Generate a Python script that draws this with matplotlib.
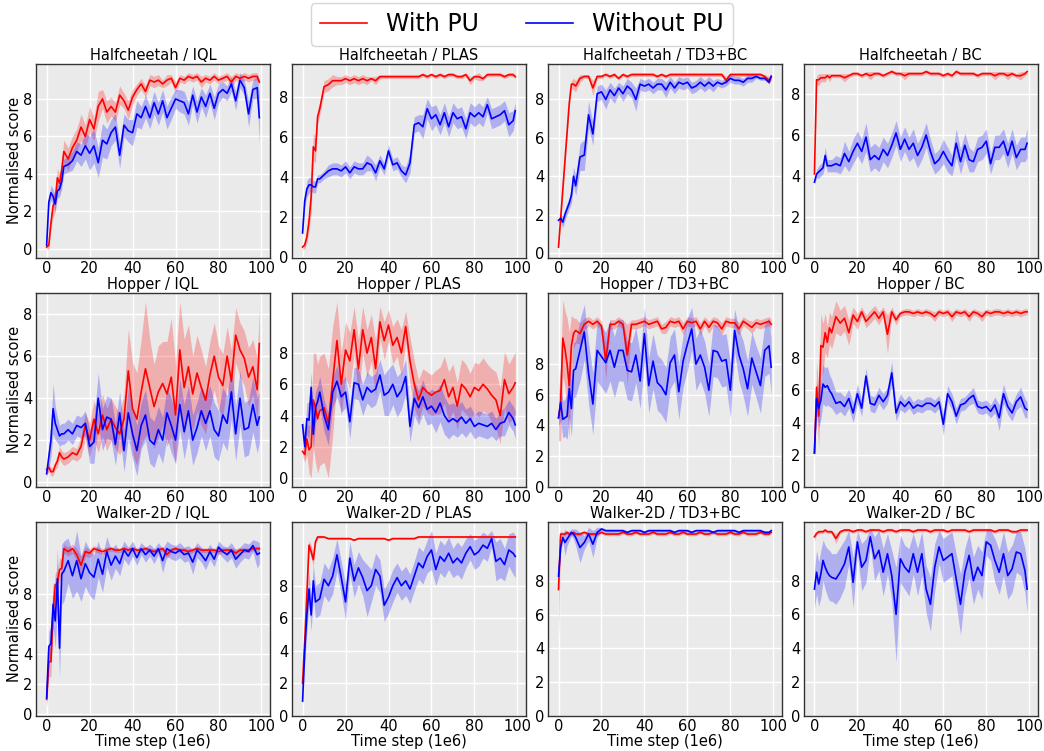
import numpy as np
import matplotlib
matplotlib.use('Agg')
import matplotlib.pyplot as plt
from matplotlib.lines import Line2D

# time steps (1e6) at which the curves were read
steps = [0, 1, 2, 3, 4, 5, 6, 7, 8,
         10, 12, 14, 16, 18, 20, 22, 24, 26, 28,
         30, 32, 34, 36, 38, 40, 42, 44, 46, 48,
         50, 52, 54, 56, 58, 60, 62, 64, 66, 68,
         70, 72, 74, 76, 78, 80, 82, 84, 86, 88,
         90, 92, 94, 96, 98, 99]

# ---- Halfcheetah ----
hc_iql_pu = [0.1, 0.2, 1.4, 2.3, 2.6, 3.8, 3.5, 4.2, 5.2,
             4.8, 5.4, 5.8, 6.5, 6.0, 6.9, 6.4, 7.6, 8.0, 7.3,
             7.6, 7.3, 8.2, 7.9, 7.4, 8.1, 8.5, 8.8, 8.4, 9.0,
             8.9, 9.0, 8.8, 9.0, 9.1, 8.6, 9.1, 9.0, 9.2, 9.1,
             9.2, 8.9, 9.1, 9.0, 9.2, 9.0, 9.1, 9.2, 8.9, 9.2,
             9.1, 9.2, 9.1, 9.2, 9.2, 8.9]
hc_iql_pu_sd = [0.1, 0.2, 0.4, 0.6, 0.6, 0.5, 0.5, 0.5, 0.6,
                0.6, 0.6, 0.6, 0.7, 0.6, 0.7, 0.6, 0.8, 0.5, 0.6,
                0.5, 0.5, 0.5, 0.4, 0.5, 0.4, 0.3, 0.3, 0.3, 0.3,
                0.3, 0.3, 0.2, 0.3, 0.2, 0.3, 0.2, 0.2, 0.2, 0.2,
                0.2, 0.3, 0.2, 0.2, 0.2, 0.2, 0.2, 0.2, 0.3, 0.2,
                0.2, 0.2, 0.2, 0.2, 0.2, 0.2]
hc_iql_nopu = [0.2, 2.5, 3.0, 2.8, 2.4, 3.1, 3.2, 3.6, 4.4,
               4.5, 4.7, 5.2, 5.0, 5.5, 5.1, 5.5, 4.6, 5.8, 5.6,
               6.2, 6.5, 5.0, 6.6, 6.3, 6.2, 7.2, 7.0, 7.6, 7.0,
               7.8, 7.2, 7.9, 7.0, 7.5, 8.0, 7.9, 7.8, 7.2, 8.2,
               7.3, 8.1, 7.6, 8.3, 7.5, 8.3, 8.5, 8.3, 8.8, 7.9,
               9.0, 8.6, 7.2, 8.5, 8.6, 7.0]
hc_iql_nopu_sd = [0.1, 0.3, 0.4, 0.4, 0.4, 0.4, 0.4, 0.4, 0.4,
                  0.4, 0.5, 0.5, 0.6, 0.7, 0.9, 0.9, 0.8, 0.9, 0.8,
                  0.7, 0.7, 0.7, 0.6, 0.6, 0.7, 0.7, 0.6, 0.6, 0.6,
                  0.6, 0.6, 0.6, 0.6, 0.6, 0.5, 0.6, 0.6, 0.6, 0.5,
                  0.6, 0.5, 0.6, 0.5, 0.6, 0.5, 0.4, 0.4, 0.4, 0.5,
                  0.4, 0.4, 0.7, 0.5, 0.6, 1.4]

hc_plas_pu = [0.5, 0.6, 1.0, 1.8, 3.0, 5.5, 5.3, 7.0, 7.4,
              8.5, 8.6, 8.8, 8.8, 8.8, 8.9, 8.8, 8.9, 8.8, 8.9,
              8.8, 8.9, 8.8, 9.0, 9.0, 9.0, 9.0, 9.0, 9.0, 9.0,
              9.0, 9.0, 9.0, 9.1, 9.0, 9.1, 9.0, 9.1, 9.0, 9.1,
              9.1, 9.0, 9.0, 9.1, 8.8, 9.0, 9.0, 8.9, 9.1, 9.1,
              9.1, 9.1, 9.0, 9.1, 9.1, 9.0]
hc_plas_pu_sd = [0.1, 0.2, 0.3, 0.5, 0.8, 0.7, 0.6, 0.4, 0.3,
                 0.3, 0.3, 0.3, 0.2, 0.2, 0.2, 0.2, 0.2, 0.2, 0.2,
                 0.2, 0.1, 0.2, 0.1, 0.1, 0.1, 0.1, 0.1, 0.1, 0.1,
                 0.1, 0.1, 0.1, 0.1, 0.1, 0.1, 0.1, 0.1, 0.1, 0.1,
                 0.1, 0.1, 0.1, 0.1, 0.2, 0.1, 0.2, 0.1, 0.1, 0.1,
                 0.1, 0.1, 0.1, 0.1, 0.1, 0.1]
hc_plas_nopu = [1.2, 2.8, 3.4, 3.6, 3.6, 3.5, 3.5, 3.9, 3.9,
                4.1, 4.3, 4.4, 4.4, 4.3, 4.5, 4.2, 4.5, 4.4, 4.4,
                4.7, 4.6, 4.2, 4.8, 4.4, 5.3, 4.6, 4.7, 4.3, 4.1,
                4.7, 6.6, 6.7, 6.5, 7.4, 6.9, 7.1, 6.6, 7.2, 6.5,
                7.2, 6.9, 7.0, 6.4, 7.2, 7.0, 7.2, 7.0, 7.6, 6.9,
                7.0, 7.1, 7.3, 6.6, 6.8, 7.3]
hc_plas_nopu_sd = [0.1, 0.3, 0.4, 0.4, 0.3, 0.3, 0.3, 0.2, 0.2,
                   0.2, 0.3, 0.3, 0.3, 0.3, 0.3, 0.3, 0.3, 0.3, 0.3,
                   0.4, 0.3, 0.4, 0.3, 0.3, 0.3, 0.3, 0.3, 0.3, 0.4,
                   0.5, 0.4, 0.4, 0.6, 0.5, 0.6, 0.5, 0.5, 0.5, 0.5,
                   0.5, 0.5, 0.5, 0.5, 0.5, 0.5, 0.5, 0.5, 0.4, 0.5,
                   0.5, 0.5, 0.5, 0.6, 0.5, 0.4]

hc_td3_pu = [0.3, 1.8, 3.3, 4.8, 6.3, 7.8, 8.8, 8.8, 8.7,
             9.1, 9.2, 9.2, 8.6, 9.2, 9.2, 9.3, 9.2, 9.3, 9.1,
             9.3, 9.2, 9.3, 9.3, 9.3, 9.3, 9.3, 9.3, 9.2, 9.3,
             9.2, 9.3, 9.3, 9.3, 9.3, 9.3, 9.3, 9.3, 9.3, 9.3,
             9.3, 9.3, 9.3, 9.3, 9.0, 9.3, 9.3, 9.3, 9.3, 9.3,
             9.3, 9.3, 9.3, 9.2, 9.0, 9.2]
hc_td3_pu_sd = [0.1, 0.2, 0.2, 0.2, 0.2, 0.2, 0.2, 0.3, 0.3,
                0.2, 0.1, 0.1, 0.4, 0.1, 0.1, 0.1, 0.1, 0.1, 0.1,
                0.1, 0.1, 0.1, 0.1, 0.1, 0.1, 0.1, 0.1, 0.1, 0.1,
                0.1, 0.1, 0.1, 0.1, 0.1, 0.1, 0.1, 0.1, 0.1, 0.1,
                0.1, 0.1, 0.1, 0.1, 0.2, 0.1, 0.1, 0.1, 0.1, 0.1,
                0.1, 0.1, 0.1, 0.1, 0.2, 0.2]
hc_td3_nopu = [1.7, 1.8, 1.6, 2.0, 2.3, 2.6, 3.0, 4.0, 3.5,
               5.0, 5.1, 7.2, 6.2, 8.3, 8.4, 8.0, 8.5, 8.2, 8.6,
               8.3, 8.7, 8.5, 8.0, 8.8, 8.7, 8.8, 8.6, 8.8, 8.8,
               8.5, 8.9, 8.6, 8.9, 8.8, 8.9, 8.6, 8.7, 8.9, 8.7,
               8.9, 8.7, 8.9, 8.8, 8.9, 9.1, 9.0, 9.0, 8.9, 9.1,
               9.1, 9.2, 9.1, 9.1, 8.9, 9.2]
hc_td3_nopu_sd = [0.1, 0.2, 0.3, 0.3, 0.3, 0.3, 0.4, 0.5, 0.5,
                  0.7, 0.8, 0.7, 0.6, 0.4, 0.4, 0.5, 0.4, 0.4, 0.3,
                  0.4, 0.4, 0.4, 0.6, 0.3, 0.3, 0.3, 0.3, 0.3, 0.3,
                  0.4, 0.3, 0.3, 0.3, 0.3, 0.3, 0.3, 0.3, 0.3, 0.3,
                  0.3, 0.3, 0.2, 0.2, 0.2, 0.2, 0.2, 0.2, 0.2, 0.2,
                  0.2, 0.1, 0.1, 0.1, 0.1, 0.1]

hc_bc_pu = [4.1, 8.7, 8.7, 8.8, 8.8, 8.8, 8.9, 8.8, 8.9,
            8.9, 8.9, 8.8, 8.9, 9.0, 9.0, 8.9, 9.0, 8.9, 9.0,
            9.0, 8.9, 9.0, 9.1, 9.0, 9.0, 8.9, 9.0, 9.0, 9.0,
            9.0, 9.1, 9.0, 9.0, 9.0, 8.9, 9.0, 8.9, 9.1, 9.0,
            9.0, 9.0, 9.0, 8.9, 9.0, 9.0, 9.0, 8.9, 9.0, 9.0,
            8.9, 9.0, 8.9, 8.9, 9.0, 9.1]
hc_bc_pu_sd = [0.1, 0.2, 0.3, 0.2, 0.2, 0.2, 0.1, 0.2, 0.1,
               0.1, 0.1, 0.2, 0.1, 0.1, 0.1, 0.1, 0.1, 0.2, 0.1,
               0.1, 0.1, 0.1, 0.1, 0.1, 0.1, 0.2, 0.1, 0.1, 0.1,
               0.1, 0.1, 0.1, 0.1, 0.1, 0.1, 0.1, 0.1, 0.1, 0.1,
               0.1, 0.1, 0.1, 0.1, 0.1, 0.1, 0.1, 0.2, 0.1, 0.1,
               0.2, 0.1, 0.1, 0.2, 0.1, 0.1]
hc_bc_nopu = [3.7, 4.1, 4.2, 4.3, 4.4, 5.0, 4.5, 4.5, 4.5,
              4.6, 4.5, 5.1, 4.7, 5.2, 5.6, 5.2, 5.9, 4.8, 5.0,
              4.8, 5.3, 5.0, 5.5, 6.1, 5.3, 5.8, 5.3, 5.6, 5.0,
              5.4, 6.0, 5.2, 4.6, 4.8, 5.2, 4.8, 4.5, 5.6, 4.7,
              5.5, 4.8, 4.7, 5.3, 5.4, 5.7, 4.6, 5.4, 5.4, 5.7,
              5.0, 5.7, 4.9, 5.3, 5.3, 5.6]
hc_bc_nopu_sd = [0.1, 0.2, 0.3, 0.3, 0.3, 0.4, 0.3, 0.3, 0.3,
                 0.4, 0.4, 0.6, 0.5, 0.6, 0.6, 0.6, 0.7, 0.6, 0.6,
                 0.6, 0.6, 0.6, 0.6, 0.6, 0.6, 0.6, 0.6, 0.7, 0.6,
                 0.6, 0.6, 0.6, 0.5, 0.5, 0.6, 0.6, 0.5, 0.7, 0.6,
                 0.6, 0.6, 0.5, 0.6, 0.6, 0.6, 0.5, 0.6, 0.6, 0.6,
                 0.6, 0.6, 0.6, 0.6, 0.6, 0.7]

# ---- Hopper ----
hp_iql_pu = [0.6, 0.7, 0.5, 0.5, 0.8, 1.0, 1.4, 1.2, 1.1,
             1.2, 1.4, 1.3, 1.7, 2.7, 2.0, 3.0, 2.3, 3.2, 2.5,
             3.0, 2.6, 2.3, 3.0, 5.3, 3.5, 3.0, 4.3, 5.4, 4.5,
             3.6, 4.3, 4.7, 4.2, 5.0, 3.2, 6.3, 4.5, 5.5, 4.2,
             5.2, 4.5, 3.9, 5.1, 6.0, 5.0, 4.6, 6.0, 4.8, 7.0,
             6.3, 5.9, 5.0, 5.5, 4.4, 6.6]
hp_iql_pu_sd = [0.2, 0.2, 0.2, 0.2, 0.2, 0.3, 0.3, 0.3, 0.3,
                0.3, 0.3, 0.3, 0.5, 0.6, 0.8, 0.9, 0.9, 1.0, 1.0,
                1.0, 1.0, 1.0, 1.2, 2.0, 2.2, 2.2, 2.5, 3.2, 2.3,
                2.0, 2.2, 2.0, 2.5, 2.8, 2.4, 2.3, 2.3, 2.0, 1.8,
                1.8, 1.8, 1.6, 1.6, 1.6, 1.5, 1.5, 1.4, 1.5, 1.3,
                1.3, 1.3, 1.4, 1.3, 1.5, 1.7]
hp_iql_nopu = [0.4, 1.2, 2.0, 3.5, 2.8, 2.5, 2.2, 2.3, 2.3,
               2.5, 2.3, 2.7, 2.6, 2.8, 1.7, 1.9, 4.0, 2.5, 3.1,
               3.0, 1.8, 3.3, 1.5, 3.3, 2.3, 1.5, 2.7, 3.2, 2.0,
               1.8, 2.5, 2.0, 3.3, 2.7, 2.0, 3.7, 2.4, 3.4, 2.0,
               2.6, 3.4, 2.8, 3.4, 2.5, 2.2, 3.2, 2.8, 4.3, 2.3,
               4.0, 2.5, 2.6, 3.7, 2.7, 3.1]
hp_iql_nopu_sd = [0.2, 0.5, 0.8, 1.2, 0.8, 0.6, 0.5, 0.5, 0.5,
                  0.5, 0.5, 0.5, 0.5, 0.6, 0.8, 1.0, 1.2, 1.0, 1.0,
                  1.0, 1.0, 1.0, 1.0, 1.2, 1.2, 1.2, 1.1, 1.2, 1.1,
                  1.1, 1.1, 1.1, 1.2, 1.3, 1.1, 1.2, 1.3, 1.2, 1.2,
                  1.2, 1.2, 1.3, 1.2, 1.3, 1.2, 1.3, 1.3, 1.3, 1.3,
                  1.3, 1.3, 1.3, 1.3, 1.3, 1.2]

hp_plas_pu = [1.7, 1.5, 2.5, 1.8, 2.0, 5.0, 4.5, 3.8, 4.3,
              4.5, 3.5, 6.2, 8.8, 6.0, 8.2, 7.5, 9.5, 7.0, 9.5,
              8.0, 9.0, 7.0, 10.0, 8.8, 9.8, 8.5, 9.0, 8.0, 9.7,
              7.5, 6.0, 5.0, 5.8, 5.5, 5.3, 5.5, 5.6, 6.3, 5.2,
              5.8, 4.6, 6.0, 5.7, 5.2, 5.8, 5.6, 6.0, 5.7, 5.3,
              5.0, 4.0, 6.3, 5.4, 5.8, 6.1]
hp_plas_pu_sd = [0.3, 0.5, 1.0, 1.5, 2.0, 3.0, 3.5, 3.5, 3.5,
                 3.5, 3.5, 3.5, 2.5, 2.0, 1.8, 1.8, 1.5, 1.8, 1.5,
                 1.5, 1.5, 1.8, 1.0, 1.2, 1.0, 1.2, 1.2, 1.5, 1.0,
                 1.5, 1.5, 1.3, 1.2, 1.3, 1.3, 1.4, 1.5, 1.5, 1.6,
                 1.5, 1.5, 1.6, 1.6, 1.5, 1.6, 1.7, 1.7, 1.6, 1.7,
                 1.8, 1.8, 1.8, 1.9, 2.0, 2.0]
hp_plas_nopu = [3.4, 2.0, 3.8, 3.7, 5.8, 2.8, 4.5, 4.9, 5.5,
                4.0, 3.1, 5.5, 6.2, 5.2, 5.5, 3.6, 6.1, 6.0, 5.0,
                5.8, 5.5, 5.7, 6.6, 5.3, 5.5, 6.0, 5.2, 5.6, 6.5,
                3.3, 5.1, 4.5, 5.2, 4.4, 4.6, 4.2, 4.8, 4.0, 3.6,
                3.8, 3.6, 3.9, 3.5, 3.8, 3.3, 3.5, 3.4, 3.3, 3.5,
                3.1, 3.5, 3.6, 4.2, 3.8, 3.4]
hp_plas_nopu_sd = [0.5, 0.8, 1.0, 1.2, 1.0, 1.0, 1.0, 1.0, 1.0,
                   1.0, 1.0, 1.0, 1.0, 1.0, 1.0, 1.1, 1.0, 1.0, 1.0,
                   1.0, 1.0, 1.0, 1.0, 1.3, 1.5, 1.3, 1.3, 1.2, 1.1,
                   1.0, 1.1, 1.1, 1.1, 1.0, 1.1, 1.3, 1.2, 1.2, 1.1,
                   1.0, 1.0, 1.0, 0.9, 0.8, 0.8, 0.8, 0.8, 0.8, 0.8,
                   0.7, 0.8, 0.9, 0.8, 0.8, 0.9]

hp_td3_pu = [4.5, 5.5, 9.7, 9.0, 8.0, 6.6, 9.2, 10.0, 10.2,
             10.0, 10.6, 10.8, 10.6, 10.8, 10.5, 8.2, 10.6, 10.6, 10.8,
             10.6, 8.6, 10.6, 10.6, 10.7, 10.8, 10.6, 10.7, 10.8, 10.3,
             10.4, 10.8, 10.7, 10.8, 10.3, 10.8, 10.7, 10.8, 10.3, 10.8,
             10.4, 10.8, 10.7, 10.3, 10.8, 10.7, 10.7, 10.3, 10.8, 10.6,
             10.4, 10.7, 10.6, 10.7, 10.8, 10.6]
hp_td3_pu_sd = [1.5, 2.5, 2.5, 2.5, 3.0, 3.5, 2.0, 1.0, 0.8,
                0.7, 0.4, 0.3, 0.3, 0.3, 0.3, 1.2, 0.3, 0.3, 0.3,
                0.3, 2.0, 0.3, 0.3, 0.3, 0.3, 0.3, 0.3, 0.3, 0.3,
                0.4, 0.3, 0.3, 0.3, 0.4, 0.3, 0.3, 0.3, 0.4, 0.3,
                0.4, 0.3, 0.3, 0.4, 0.3, 0.3, 0.3, 0.4, 0.3, 0.3,
                0.4, 0.3, 0.3, 0.3, 0.3, 0.3]
hp_td3_nopu = [4.5, 5.5, 4.4, 4.5, 4.6, 6.4, 5.1, 7.6, 7.7,
               8.9, 10.1, 7.4, 5.4, 8.9, 8.5, 8.1, 8.9, 7.8, 8.9,
               8.9, 7.6, 7.5, 8.6, 6.9, 10.0, 6.6, 8.2, 6.8, 6.5,
               6.0, 8.1, 8.6, 6.2, 8.2, 9.3, 10.3, 8.0, 8.6, 7.8,
               6.3, 8.9, 8.8, 8.2, 8.3, 6.3, 10.2, 8.6, 7.7, 6.4,
               8.4, 7.5, 6.6, 8.9, 9.2, 7.8]
hp_td3_nopu_sd = [0.5, 1.2, 1.2, 1.2, 1.5, 1.8, 1.8, 1.8, 1.8,
                  2.0, 1.8, 2.0, 2.0, 2.0, 2.0, 2.0, 2.0, 2.0, 2.0,
                  2.0, 1.9, 1.9, 1.8, 1.8, 1.7, 1.8, 1.8, 1.8, 1.8,
                  1.8, 1.7, 1.7, 1.8, 1.7, 1.7, 1.4, 1.7, 1.7, 1.7,
                  1.7, 1.7, 1.7, 1.7, 1.7, 1.8, 1.4, 1.7, 1.8, 1.8,
                  1.7, 1.7, 1.8, 1.7, 1.8, 1.8]

hp_bc_pu = [2.1, 6.2, 4.4, 8.8, 8.7, 9.6, 9.0, 9.9, 9.6,
            10.6, 10.2, 10.5, 9.6, 10.7, 10.3, 10.9, 10.3, 10.6, 10.9,
            10.5, 10.9, 9.5, 10.9, 10.4, 10.8, 10.9, 10.9, 10.8, 10.9,
            10.8, 10.9, 10.8, 10.6, 10.9, 10.8, 10.9, 10.6, 10.9, 10.8,
            10.9, 10.6, 10.9, 10.8, 10.6, 10.9, 10.8, 10.9, 10.9, 10.8,
            10.9, 10.8, 10.9, 10.8, 10.9, 10.9]
hp_bc_pu_sd = [0.3, 1.5, 2.0, 2.0, 1.5, 1.2, 1.0, 1.0, 1.0,
               1.0, 0.8, 0.8, 0.8, 0.5, 0.5, 0.3, 0.4, 0.4, 0.4,
               0.4, 0.3, 1.2, 0.3, 0.3, 0.2, 0.2, 0.2, 0.2, 0.2,
               0.2, 0.2, 0.2, 0.3, 0.2, 0.2, 0.2, 0.3, 0.2, 0.2,
               0.2, 0.3, 0.2, 0.2, 0.3, 0.2, 0.2, 0.2, 0.2, 0.2,
               0.2, 0.2, 0.2, 0.2, 0.2, 0.2]
hp_bc_nopu = [2.1, 5.5, 4.9, 5.4, 6.4, 6.2, 6.3, 6.0, 5.8,
              5.2, 5.3, 5.0, 5.5, 4.6, 5.8, 4.9, 6.9, 5.2, 5.1,
              5.7, 5.3, 5.7, 7.1, 4.6, 5.3, 5.0, 5.3, 4.9, 5.1,
              5.0, 5.2, 5.2, 5.0, 5.3, 3.9, 5.8, 5.3, 4.4, 5.1,
              5.2, 5.5, 5.7, 5.0, 4.9, 5.0, 4.7, 5.1, 4.3, 5.8,
              5.0, 4.6, 5.3, 5.6, 4.9, 4.8]
hp_bc_nopu_sd = [0.2, 1.0, 1.2, 1.2, 1.2, 1.2, 1.2, 1.0, 0.9,
                 0.7, 0.6, 0.6, 0.6, 0.6, 0.6, 0.5, 0.5, 0.5, 0.5,
                 0.5, 0.5, 0.5, 0.7, 0.5, 0.5, 0.4, 0.4, 0.4, 0.4,
                 0.4, 0.4, 0.4, 0.4, 0.4, 0.7, 0.5, 0.5, 0.5, 0.4,
                 0.4, 0.4, 0.5, 0.4, 0.4, 0.4, 0.4, 0.5, 0.8, 0.6,
                 0.5, 0.5, 0.5, 0.6, 0.6, 0.5]

# ---- Walker-2D ----
wk_iql_pu = [1.0, 3.5, 3.5, 6.8, 8.6, 8.7, 9.6, 9.7, 11.0,
             10.8, 11.0, 10.6, 9.9, 10.8, 10.7, 11.0, 10.9, 10.8, 10.9,
             11.0, 10.9, 10.9, 11.0, 10.9, 11.0, 10.9, 10.9, 11.0, 10.9,
             10.8, 10.9, 11.0, 10.6, 10.9, 11.0, 10.9, 10.9, 10.8, 10.9,
             11.0, 10.9, 10.9, 10.9, 10.9, 10.8, 10.9, 10.9, 10.9, 10.7,
             10.9, 10.9, 10.9, 11.0, 11.0, 11.0]
wk_iql_pu_sd = [0.5, 1.0, 1.0, 1.0, 0.8, 0.8, 0.8, 0.6, 0.3,
                0.3, 0.3, 0.4, 0.6, 0.3, 0.3, 0.2, 0.2, 0.2, 0.2,
                0.15, 0.15, 0.15, 0.15, 0.15, 0.15, 0.15, 0.15, 0.15, 0.15,
                0.2, 0.15, 0.15, 0.3, 0.15, 0.15, 0.15, 0.15, 0.2, 0.15,
                0.15, 0.15, 0.15, 0.15, 0.15, 0.2, 0.15, 0.15, 0.15, 0.3,
                0.15, 0.15, 0.15, 0.15, 0.15, 0.15]
wk_iql_nopu = [1.1, 4.5, 4.7, 7.3, 6.2, 9.0, 4.4, 9.3, 9.5,
               10.2, 9.2, 10.2, 9.0, 10.0, 9.4, 9.1, 10.3, 9.3, 10.8,
               9.9, 10.5, 10.0, 10.9, 10.5, 11.0, 10.4, 11.0, 10.6, 10.9,
               10.5, 11.0, 10.2, 11.0, 10.8, 10.7, 10.9, 10.6, 10.7, 10.1,
               10.9, 10.6, 10.2, 10.8, 10.3, 11.1, 10.8, 10.6, 10.9, 10.3,
               10.6, 10.9, 10.8, 11.2, 10.6, 10.7]
wk_iql_nopu_sd = [0.6, 1.0, 1.2, 1.5, 1.8, 2.0, 2.0, 2.0, 2.0,
                  1.5, 1.5, 2.0, 1.5, 1.5, 1.5, 1.5, 1.2, 1.2, 1.0,
                  1.0, 0.8, 0.8, 0.6, 0.6, 0.5, 0.5, 0.4, 0.5, 0.4,
                  0.5, 0.4, 0.8, 0.5, 0.5, 0.5, 0.5, 0.5, 0.5, 0.8,
                  0.5, 0.5, 0.6, 0.5, 0.5, 0.4, 0.4, 0.5, 0.5, 0.6,
                  0.5, 0.5, 0.5, 0.4, 0.9, 0.7]

wk_plas_pu = [2.0, 4.6, 7.5, 10.5, 10.1, 9.6, 10.7, 11.0, 11.0,
              11.0, 10.9, 10.9, 10.9, 10.9, 10.9, 10.9, 10.8, 10.9, 10.9,
              10.9, 10.9, 10.9, 10.9, 10.9, 10.8, 10.9, 10.9, 10.9, 10.9,
              10.9, 10.9, 11.0, 11.0, 11.0, 11.0, 11.0, 11.0, 11.0, 11.0,
              11.0, 11.0, 11.0, 11.0, 11.0, 11.0, 11.0, 11.0, 11.0, 11.0,
              11.0, 11.0, 11.0, 11.0, 11.0, 11.0]
wk_plas_pu_sd = [0.2, 0.5, 0.8, 0.3, 0.4, 0.4, 0.2, 0.1, 0.1,
                 0.05, 0.05, 0.05, 0.05, 0.05, 0.05, 0.05, 0.05, 0.05, 0.05,
                 0.05, 0.05, 0.05, 0.05, 0.05, 0.05, 0.05, 0.05, 0.05, 0.05,
                 0.05, 0.05, 0.05, 0.05, 0.05, 0.05, 0.05, 0.05, 0.05, 0.05,
                 0.05, 0.05, 0.05, 0.05, 0.05, 0.05, 0.05, 0.05, 0.05, 0.05,
                 0.05, 0.05, 0.05, 0.05, 0.05, 0.05]
wk_plas_nopu = [0.9, 4.0, 6.2, 7.8, 6.2, 8.3, 7.0, 7.1, 7.2,
                8.4, 8.0, 8.6, 9.9, 8.5, 7.0, 9.7, 8.3, 9.1, 8.5,
                7.7, 8.0, 9.0, 8.6, 6.8, 7.3, 8.0, 8.5, 8.0, 8.3,
                7.8, 8.6, 9.4, 9.1, 9.8, 10.2, 9.0, 9.8, 9.5, 10.0,
                9.4, 9.7, 9.4, 10.0, 10.4, 9.9, 10.1, 10.5, 10.3, 10.9,
                9.5, 9.7, 9.3, 10.2, 10.0, 9.8]
wk_plas_nopu_sd = [0.3, 0.8, 1.0, 1.0, 1.0, 1.0, 1.0, 1.0, 1.0,
                   1.0, 1.0, 1.1, 1.0, 1.0, 1.1, 1.0, 1.0, 1.0, 1.1,
                   1.6, 1.0, 1.0, 1.0, 1.0, 1.0, 1.0, 0.9, 0.9, 0.9,
                   0.9, 0.9, 1.0, 1.0, 1.0, 1.2, 1.0, 1.0, 1.0, 1.0,
                   0.9, 1.0, 1.0, 0.9, 0.8, 0.9, 0.9, 0.8, 0.8, 0.5,
                   1.2, 1.2, 1.0, 1.0, 1.3, 1.3]

wk_td3_pu = [7.5, 10.8, 10.8, 10.8, 10.9, 10.8, 10.8, 10.9, 10.8,
             10.8, 10.9, 10.8, 10.8, 10.8, 10.9, 10.8, 10.8, 10.8, 10.8,
             10.9, 10.8, 10.8, 10.9, 10.8, 10.8, 10.8, 10.9, 10.8, 10.8,
             10.8, 10.9, 10.8, 10.8, 10.9, 10.8, 10.8, 10.8, 10.9, 10.8,
             10.8, 10.9, 10.8, 10.8, 10.8, 10.9, 10.8, 10.8, 10.9, 10.8,
             10.8, 10.8, 10.9, 10.8, 10.8, 10.9]
wk_td3_pu_sd = [3.0, 0.2, 0.1, 0.1, 0.1, 0.1, 0.1, 0.1, 0.1,
                0.1, 0.1, 0.1, 0.1, 0.1, 0.1, 0.1, 0.1, 0.1, 0.1,
                0.1, 0.1, 0.1, 0.1, 0.1, 0.1, 0.1, 0.1, 0.1, 0.1,
                0.1, 0.1, 0.1, 0.1, 0.1, 0.1, 0.1, 0.1, 0.1, 0.1,
                0.1, 0.1, 0.1, 0.1, 0.1, 0.1, 0.1, 0.1, 0.1, 0.1,
                0.1, 0.1, 0.1, 0.1, 0.1, 0.1]
wk_td3_nopu = [8.3, 10.0, 10.6, 10.3, 10.5, 10.7, 10.9, 10.8, 10.6,
               10.0, 10.3, 10.8, 10.2, 10.9, 11.1, 11.0, 11.0, 11.0, 11.0,
               11.0, 10.9, 11.0, 11.0, 11.0, 10.9, 11.0, 11.0, 11.0, 11.0,
               11.0, 11.0, 10.9, 11.0, 11.0, 11.0, 10.9, 11.0, 11.0, 11.0,
               11.0, 10.9, 11.0, 11.0, 11.0, 11.0, 11.0, 10.9, 11.0, 11.0,
               11.0, 11.0, 11.0, 10.9, 10.9, 11.0]
wk_td3_nopu_sd = [0.2, 0.3, 0.2, 0.8, 0.4, 0.3, 0.2, 0.3, 0.5,
                  0.9, 0.4, 0.4, 0.8, 0.3, 0.1, 0.1, 0.1, 0.1, 0.1,
                  0.1, 0.1, 0.1, 0.1, 0.1, 0.1, 0.1, 0.1, 0.1, 0.1,
                  0.1, 0.1, 0.1, 0.1, 0.1, 0.1, 0.1, 0.1, 0.1, 0.1,
                  0.1, 0.1, 0.1, 0.1, 0.1, 0.1, 0.1, 0.1, 0.1, 0.1,
                  0.1, 0.1, 0.1, 0.1, 0.1, 0.1]

wk_bc_pu = [10.6, 10.8, 10.9, 10.9, 10.9, 11.0, 10.9, 10.9, 10.9,
            10.5, 10.9, 11.0, 11.0, 10.9, 11.0, 11.0, 10.9, 11.0, 11.0,
            11.0, 10.9, 11.0, 11.0, 10.9, 11.0, 11.0, 11.0, 10.9, 11.0,
            11.0, 11.0, 10.9, 11.0, 11.0, 11.0, 10.9, 11.0, 11.0, 11.0,
            11.0, 10.9, 11.0, 11.0, 11.0, 11.0, 11.0, 10.9, 11.0, 11.0,
            11.0, 10.9, 10.9, 11.0, 11.0, 11.0]
wk_bc_pu_sd = [0.2, 0.1, 0.1, 0.1, 0.1, 0.1, 0.1, 0.1, 0.1,
               0.3, 0.1, 0.1, 0.1, 0.1, 0.1, 0.1, 0.1, 0.1, 0.1,
               0.1, 0.1, 0.1, 0.1, 0.1, 0.1, 0.1, 0.1, 0.1, 0.1,
               0.1, 0.1, 0.1, 0.1, 0.1, 0.1, 0.1, 0.1, 0.1, 0.1,
               0.1, 0.1, 0.1, 0.1, 0.1, 0.1, 0.1, 0.1, 0.1, 0.1,
               0.1, 0.1, 0.1, 0.1, 0.1, 0.1]
wk_bc_nopu = [7.5, 8.5, 7.8, 8.4, 9.2, 8.8, 8.5, 8.3, 8.2,
              8.1, 8.5, 9.0, 10.0, 7.9, 10.3, 8.8, 9.2, 10.6, 9.3,
              9.8, 8.5, 9.6, 8.3, 6.0, 9.3, 8.8, 8.5, 9.6, 8.5,
              9.6, 7.5, 6.6, 8.8, 10.0, 9.2, 9.4, 9.6, 8.1, 6.6,
              8.5, 9.5, 8.0, 8.8, 8.3, 10.3, 10.1, 9.2, 8.5, 9.6,
              8.3, 8.7, 9.7, 9.6, 8.6, 7.5]
wk_bc_nopu_sd = [1.1, 1.3, 1.3, 1.4, 1.2, 1.3, 1.4, 1.5, 1.4,
                 1.5, 1.5, 1.4, 1.0, 1.5, 0.7, 1.4, 1.3, 0.5, 1.3,
                 1.2, 1.4, 1.2, 1.5, 2.8, 1.4, 1.3, 1.4, 1.2, 1.4,
                 1.3, 1.4, 1.6, 1.4, 1.0, 1.3, 1.3, 1.3, 1.5, 1.8,
                 1.4, 1.3, 1.4, 1.3, 1.4, 0.8, 0.9, 1.3, 1.3, 1.3,
                 1.4, 1.4, 1.2, 1.3, 1.3, 1.4]

panels = [
    ('Halfcheetah / IQL', hc_iql_pu, hc_iql_pu_sd, hc_iql_nopu, hc_iql_nopu_sd),
    ('Halfcheetah / PLAS', hc_plas_pu, hc_plas_pu_sd, hc_plas_nopu, hc_plas_nopu_sd),
    ('Halfcheetah / TD3+BC', hc_td3_pu, hc_td3_pu_sd, hc_td3_nopu, hc_td3_nopu_sd),
    ('Halfcheetah / BC', hc_bc_pu, hc_bc_pu_sd, hc_bc_nopu, hc_bc_nopu_sd),
    ('Hopper / IQL', hp_iql_pu, hp_iql_pu_sd, hp_iql_nopu, hp_iql_nopu_sd),
    ('Hopper / PLAS', hp_plas_pu, hp_plas_pu_sd, hp_plas_nopu, hp_plas_nopu_sd),
    ('Hopper / TD3+BC', hp_td3_pu, hp_td3_pu_sd, hp_td3_nopu, hp_td3_nopu_sd),
    ('Hopper / BC', hp_bc_pu, hp_bc_pu_sd, hp_bc_nopu, hp_bc_nopu_sd),
    ('Walker-2D / IQL', wk_iql_pu, wk_iql_pu_sd, wk_iql_nopu, wk_iql_nopu_sd),
    ('Walker-2D / PLAS', wk_plas_pu, wk_plas_pu_sd, wk_plas_nopu, wk_plas_nopu_sd),
    ('Walker-2D / TD3+BC', wk_td3_pu, wk_td3_pu_sd, wk_td3_nopu, wk_td3_nopu_sd),
    ('Walker-2D / BC', wk_bc_pu, wk_bc_pu_sd, wk_bc_nopu, wk_bc_nopu_sd),
]

x = np.array(steps)
fig, axes = plt.subplots(3, 4, figsize=(10.44, 7.51), dpi=100)
fig.subplots_adjust(left=0.0345, right=0.994, top=0.915, bottom=0.047,
                    wspace=0.094, hspace=0.18)

for i, (title, pu, pu_sd, nopu, nopu_sd) in enumerate(panels):
    ax = axes[i // 4][i % 4]
    ax.set_facecolor('#EAEAEA')
    ax.grid(True, color='white', linewidth=1.0)
    ax.set_axisbelow(True)
    for m, s, c in [(np.array(pu), np.array(pu_sd), 'red'),
                    (np.array(nopu), np.array(nopu_sd), 'blue')]:
        ax.fill_between(x, m - s, m + s, color=c, alpha=0.25, linewidth=0)
        ax.plot(x, m, color=c, linewidth=1.2)
    ax.set_title(title, fontsize=10.5, pad=3)
    ax.set_xticks([0, 20, 40, 60, 80, 100])
    ax.set_yticks([0, 2, 4, 6, 8])
    ax.tick_params(length=0, labelsize=10.5, pad=2.5)
    for sp in ax.spines.values():
        sp.set_color('#333333')
        sp.set_linewidth(1.0)
    if i % 4 == 0:
        ax.set_ylabel('Normalised score', fontsize=10.5, labelpad=1)
    if i // 4 == 2:
        ax.set_xlabel('Time step (1e6)', fontsize=10.5, labelpad=0)

handles = [Line2D([], [], color='red', linewidth=1.2),
           Line2D([], [], color='blue', linewidth=1.2)]
fig.legend(handles, ['With PU', 'Without PU'], loc='upper center',
           bbox_to_anchor=(0.5, 1.012), ncol=2, fontsize=17, handlelength=2.0,
           columnspacing=2.0, fancybox=True, edgecolor='#cccccc')

fig.savefig('out.png', dpi=100)
